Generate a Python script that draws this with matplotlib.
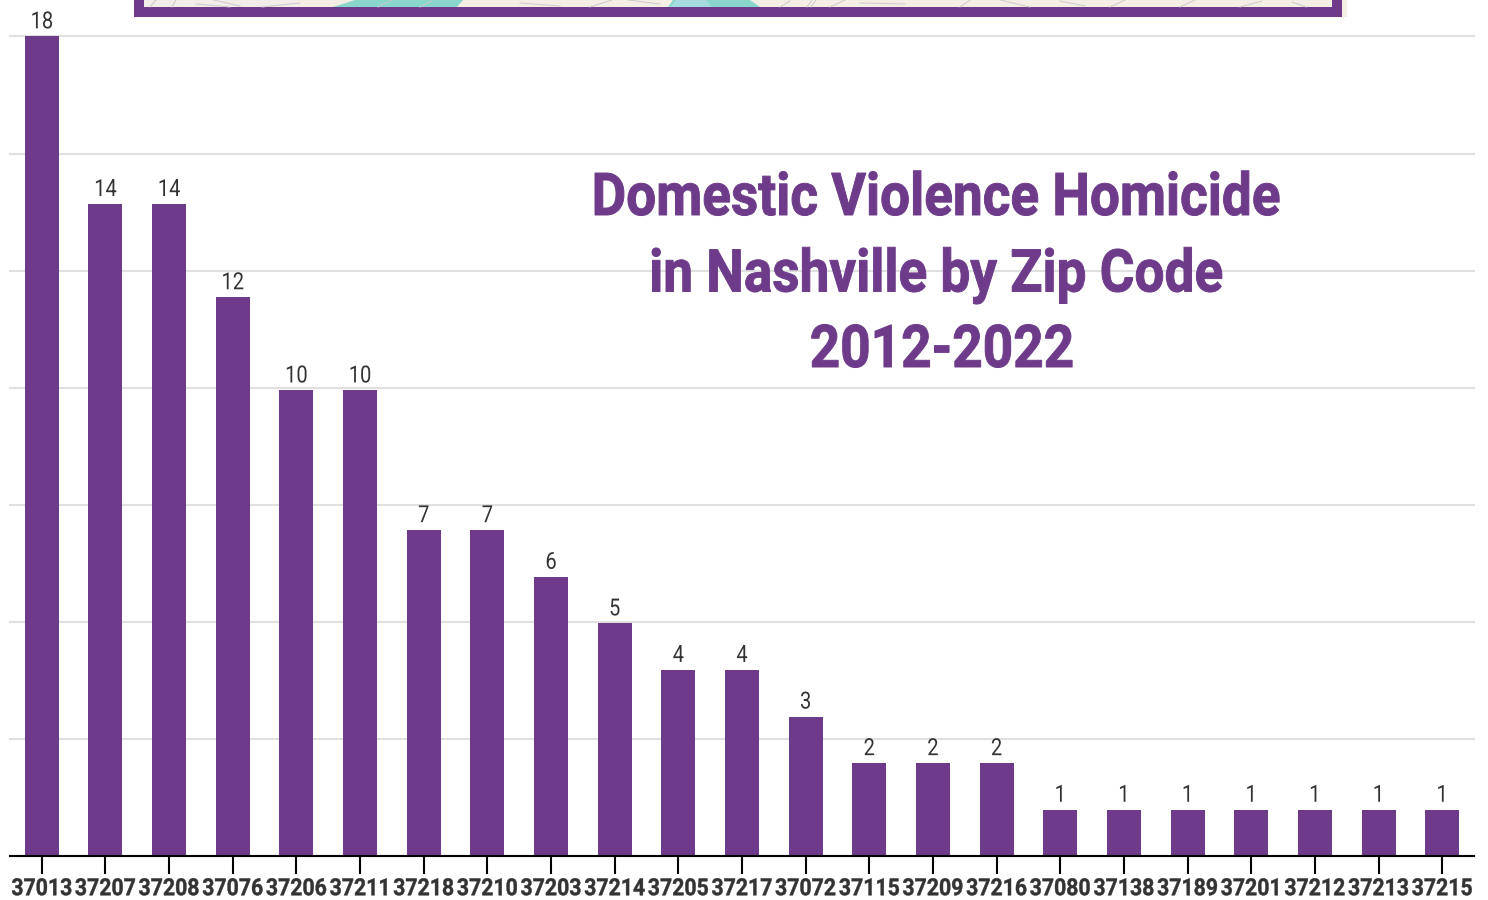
import matplotlib
matplotlib.use("Agg")
import matplotlib.pyplot as plt
import numpy as np
from matplotlib.lines import Line2D
from matplotlib.patches import Rectangle, Polygon
from matplotlib.patheffects import AbstractPathEffect
from matplotlib.transforms import Affine2D

zips = ["37013", "37207", "37208", "37076", "37206", "37211", "37218", "37210",
        "37203", "37214", "37205", "37217", "37072", "37115", "37209", "37216",
        "37080", "37138", "37189", "37201", "37212", "37213", "37215"]
homicides = [18, 14, 14, 12, 10, 10, 7, 7, 6, 5, 4, 4, 3, 2, 2, 2, 1, 1, 1, 1, 1, 1, 1]
title_lines = ["Domestic Violence Homicide", "in Nashville by Zip Code", "2012-2022"]

PURPLE = "#6e3b8a"
TEXT = "#333333"
W, H = 1488, 900
BASE_Y = 856.4
TOP_Y = 36.4
Y_MAX = 17.6


class Narrow(AbstractPathEffect):
    """Squeeze a text horizontally about its anchor (no condensed face is installed)."""

    def __init__(self, anchor_x, factor, stroke=0):
        super().__init__()
        self.squeeze = Affine2D().translate(-anchor_x, 0).scale(factor, 1).translate(anchor_x, 0)
        self.stroke = stroke

    def draw_path(self, renderer, gc, tpath, affine, rgbFace=None):
        gc0 = renderer.new_gc()
        gc0.copy_properties(gc)
        gc0.set_linewidth(self.stroke)
        gc0.set_foreground(rgbFace)
        renderer.draw_path(gc0, tpath, affine + self.squeeze, rgbFace)
        gc0.restore()


def fig_xy(x, y):
    return x / W, 1 - y / H


def page_poly(points, color):
    fig.add_artist(Polygon([fig_xy(x, y) for x, y in points], transform=fig.transFigure,
                           facecolor=color, edgecolor="none"))


def page_rect(x0, y0, x1, y1, color):
    page_poly([(x0, y0), (x1, y0), (x1, y1), (x0, y1)], color)


fig = plt.figure(figsize=(W / 100, H / 100), dpi=100, facecolor="white")
plt.rcParams["font.family"] = ["Roboto", "DejaVu Sans"]

ax = fig.add_axes([10 / W, 1 - BASE_Y / H, 1464 / W, (BASE_Y - TOP_Y) / H])
ax.bar(range(len(zips)), homicides, width=0.534, color=PURPLE, zorder=3)
ax.set_xlim(-0.5, len(zips) - 0.5)
ax.set_ylim(0, Y_MAX)
ax.set_yticks(np.linspace(0, Y_MAX, 8))
ax.tick_params(axis="y", length=0, labelleft=False)
ax.grid(axis="y", color="#e0e0e0", linewidth=1.5, zorder=0)
for gl in ax.get_ygridlines():
    gl.set_clip_on(False)
ax.set_xticks(range(len(zips)))
ax.set_xticklabels(zips, fontsize=17, fontweight="bold", color=TEXT)
ax.tick_params(axis="x", length=13, width=1.5, color="black", pad=2)
for side in ["top", "left", "right"]:
    ax.spines[side].set_visible(False)
ax.spines["bottom"].set_linewidth(1.5)
ax.spines["bottom"].set_zorder(5)

for i, label in enumerate(ax.get_xticklabels()):
    px = ax.transData.transform((i, 0))[0]
    label.set_path_effects([Narrow(px, 0.9, stroke=0.3)])

for i, v in enumerate(homicides):
    px = ax.transData.transform((i, 0))[0]
    # the tallest bar runs past the axis top, its label sits just under the map frame
    txt = ax.annotate(str(v), (i, min(v, Y_MAX)), xytext=(0, 5.8), textcoords="offset points",
                      ha="center", va="baseline", fontsize=17, color=TEXT,
                      annotation_clip=False)
    txt.set_path_effects([Narrow(px, 0.85)])

# title lines: per-line centre and baseline in pixels
for line, cx, base in zip(title_lines, [936, 936, 942], [215, 291.5, 367]):
    t = fig.text(cx / W, 1 - base / H, line, ha="center", va="baseline", fontsize=42.5,
                 fontweight="bold", color=PURPLE)
    t.set_path_effects([Narrow(cx, 0.9, stroke=0.7)])

# bottom edge of the framed map at the top of the page
page_rect(134, 0, 1347, 17, "#f5eee5")
page_rect(144, 0, 300, 7, "#f2ede8")
page_poly([(333, 7), (355, 0), (463, 0), (457, 7)], "#88d6cc")
page_poly([(668, 7), (673, 0), (750, 0), (760, 7)], "#88d6cc")
page_poly([(670, 7), (676, 0), (706, 0), (712, 7)], "#a5dadf")

# a few of the map's street lines
streets = [(150, 7, 156, 0), (172, 7, 176, 0), (196, 4, 230, 7), (214, 0, 240, 6),
           (262, 7, 300, 3), (378, 7, 392, 0), (420, 7, 432, 1), (520, 3, 560, 6),
           (590, 7, 612, 0), (628, 0, 660, 4), (780, 7, 790, 1), (807, 7, 812, 0),
           (811, 7, 816, 0), (830, 7, 845, 0), (860, 3, 905, 4), (960, 7, 970, 0),
           (1000, 0, 1030, 7), (1060, 1, 1085, 6), (1110, 7, 1125, 0), (1180, 7, 1195, 0),
           (1240, 7, 1262, 1), (1292, 2, 1306, 7)]
for x0, y0, x1, y1 in streets:
    xa, ya = fig_xy(x0, y0)
    xb, yb = fig_xy(x1, y1)
    fig.add_artist(Line2D([xa, xb], [ya, yb], transform=fig.transFigure,
                          color="#cfc8cc", linewidth=0.7))

page_rect(134, 7, 1342, 17, PURPLE)
page_rect(134, 0, 144, 17, PURPLE)
page_rect(1332, 0, 1342, 17, PURPLE)

fig.savefig("out.png", dpi=100)
